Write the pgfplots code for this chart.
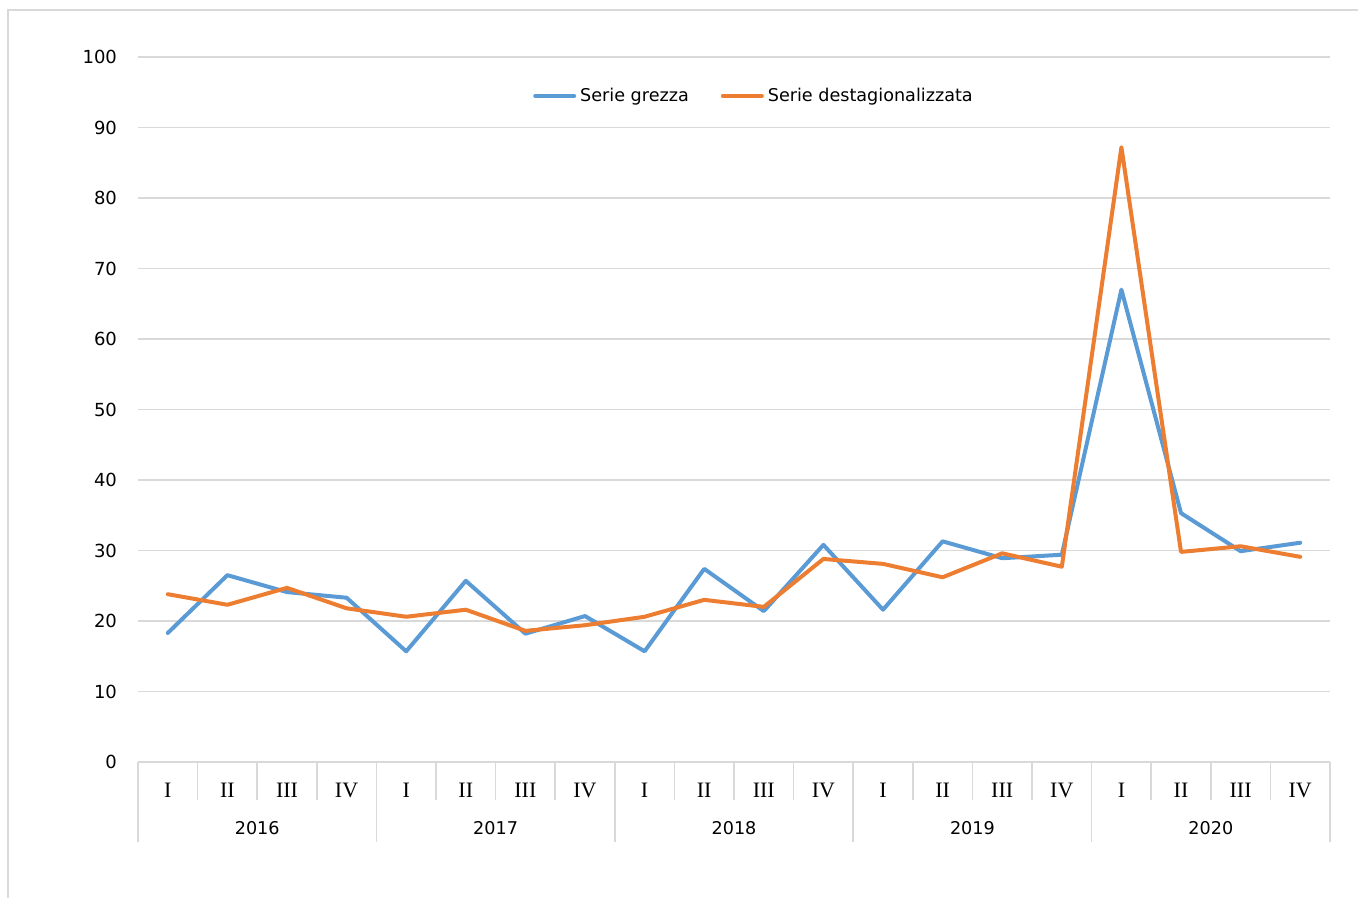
\documentclass[border=0pt]{standalone}
\usepackage{pgfplots}
\usepackage{pgfplotstable}
\pgfplotsset{compat=1.18}
\usepackage{fontspec}
\setmainfont{DejaVu Sans}
\newfontfamily\serifq{Liberation Serif}
\definecolor{sblue}{HTML}{5B9BD5}
\definecolor{sorange}{HTML}{ED7D31}
\definecolor{gridc}{HTML}{D9D9D9}

\pgfplotstableread{
x grezza destag
0  18.3 23.8
1  26.5 22.3
2  24.1 24.7
3  23.3 21.8
4  15.7 20.6
5  25.7 21.6
6  18.2 18.6
7  20.7 19.4
8  15.7 20.6
9  27.4 23.0
10 21.4 22.0
11 30.8 28.8
12 21.6 28.1
13 31.3 26.2
14 28.9 29.6
15 29.4 27.7
16 67.0 87.2
17 35.3 29.8
18 29.9 30.6
19 31.1 29.1
}\datatable

\begin{document}
\begin{tikzpicture}[x=0.5pt,y=0.5pt]
\useasboundingbox (0,0) rectangle (1358,898);
\draw[gridc, line width=1pt] (7.5,888) rectangle (1375,-20);
\begin{axis}[
  at={(69pt,68pt)}, anchor=south west,
  scale only axis, width=596pt, height=352.5pt,
  xmin=-0.5, xmax=19.5, ymin=0, ymax=100,
  separate axis lines, axis line style={draw=none},
  ytick={0,10,...,100},
  /pgf/number format/assume math mode=true,
  ymajorgrids, grid style={gridc, line width=0.75pt},
  major tick length=0pt,
  tick align=outside,
  xtick pos=bottom, ytick pos=left,
  xtick={0,...,19},
  xticklabels={I,II,III,IV,I,II,III,IV,I,II,III,IV,I,II,III,IV,I,II,III,IV},
  xticklabel style={font=\serifq\fontsize{11}{13}\selectfont, anchor=base, yshift=-17.6pt},
  yticklabel style={font=\fontsize{9}{10}\selectfont, xshift=-7pt},
  minor xtick={-0.5,0.5,...,19.5},
  minor tick length=19pt,
  minor tick style={gridc, line width=0.75pt},
  extra x ticks={-0.5,3.5,7.5,11.5,15.5,19.5},
  extra x tick labels={},
  extra x tick style={major tick length=40pt, major tick style={gridc, line width=0.75pt}, grid=none},
  legend style={at={(0.5176,0.9447)}, anchor=center, draw=none, fill=none,
    font=\fontsize{8.8}{10}\selectfont, inner sep=0pt,
    /tikz/every even column/.append style={column sep=14pt}},
  legend columns=2,
  legend image code/.code={\draw[#1, line width=2pt] (0pt,0pt) -- (19.5pt,0pt);},
  clip=false,
]
\addplot[sblue, line width=2pt, line join=round, line cap=round] table[x=x, y=grezza] {\datatable};
\addlegendentry{Serie grezza}
\addplot[sorange, line width=2pt, line join=round, line cap=round] table[x=x, y=destag] {\datatable};
\addlegendentry{Serie destagionalizzata}
\foreach \yr/\cx in {2016/1.5,2017/5.5,2018/9.5,2019/13.5,2020/17.5}{
  \edef\tmp{\noexpand\node[anchor=base, font=\noexpand\fontsize{8.8}{10}\noexpand\selectfont] at (axis cs:\cx,0) [yshift=-36.2pt] {\yr};}
  \tmp
}
\end{axis}
\end{tikzpicture}
\end{document}
